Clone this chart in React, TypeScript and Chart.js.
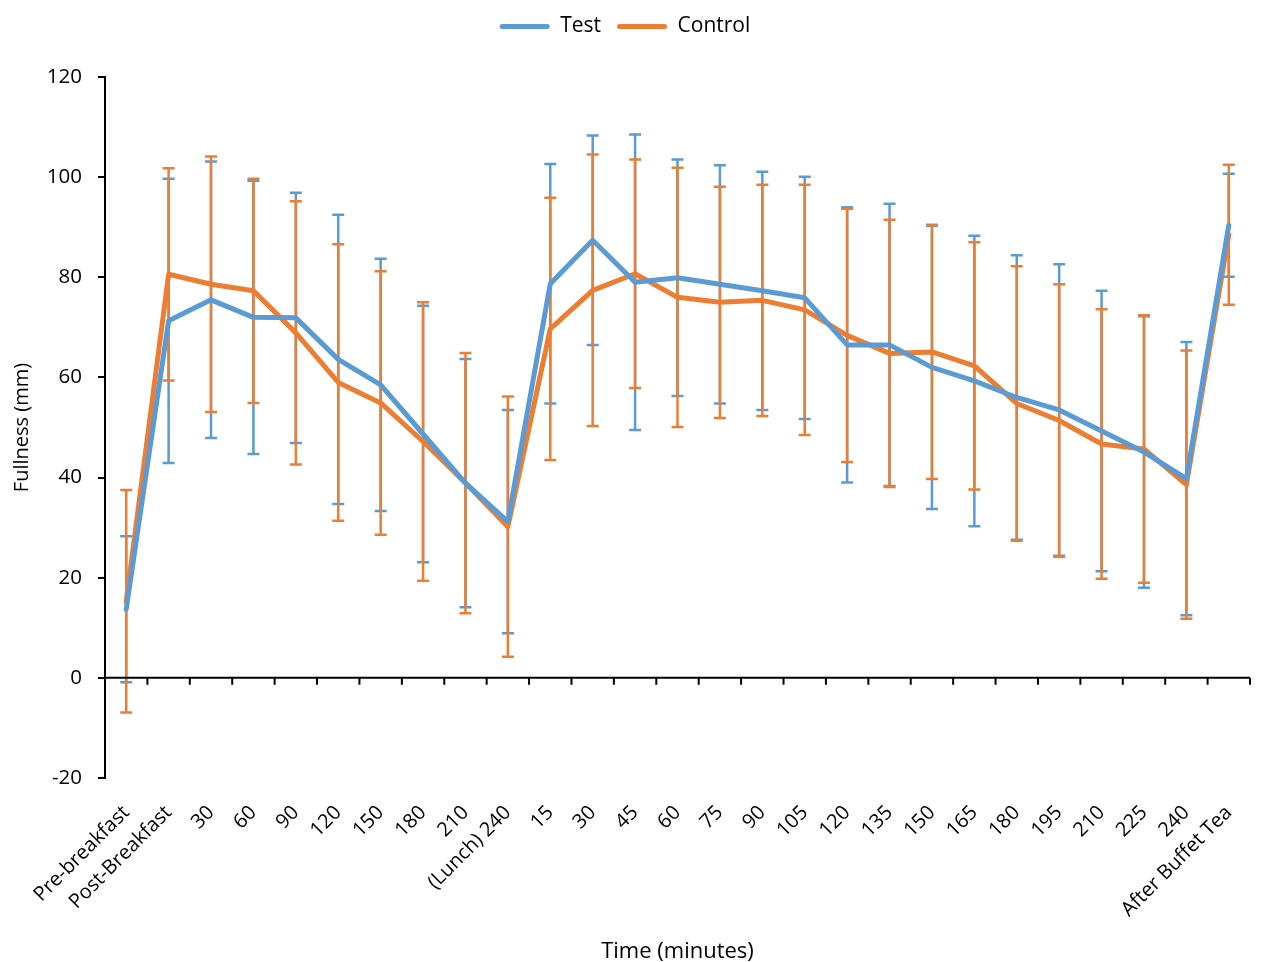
import React, { useEffect, useRef } from "react";
import { Chart, registerables } from "chart.js";

Chart.register(...registerables);

const categories = [
  "Pre-breakfast", "Post-Breakfast", "30", "60", "90", "120", "150", "180", "210", "(Lunch) 240",
  "15", "30", "45", "60", "75", "90", "105", "120", "135", "150", "165", "180", "195", "210", "225", "240",
  "After Buffet Tea",
];

const testMean = [
  13.7, 71.3, 75.5, 72.0, 71.9, 63.6, 58.5, 48.7, 38.9, 31.2,
  78.7, 87.4, 79.0, 79.9, 78.6, 77.3, 75.9, 66.5, 66.5, 62.0, 59.3, 56.0, 53.5, 49.3, 45.1, 39.8,
  90.4,
];
const testSD = [
  14.6, 28.4, 27.6, 27.3, 25.0, 28.9, 25.2, 25.6, 24.8, 22.3,
  23.9, 20.9, 29.5, 23.6, 23.8, 23.8, 24.2, 27.5, 28.2, 28.3, 29.0, 28.4, 29.1, 28.0, 27.1, 27.3,
  10.3,
];
const controlMean = [
  15.3, 80.6, 78.6, 77.3, 68.9, 59.0, 54.9, 47.2, 38.9, 30.2,
  69.7, 77.4, 80.7, 76.0, 75.0, 75.4, 73.5, 68.4, 64.8, 65.1, 62.3, 54.8, 51.4, 46.7, 45.7, 38.6,
  88.5,
];
const controlSD = [
  22.2, 21.2, 25.5, 22.4, 26.3, 27.6, 26.3, 27.8, 26.0, 26.0,
  26.2, 27.1, 22.8, 25.9, 23.1, 23.1, 25.0, 25.3, 26.7, 25.4, 24.7, 27.4, 27.2, 26.9, 26.7, 26.8,
  14.0,
];

const yTicks = { min: -20, max: 120, step: 20 };

const BLUE = "#5B9BD5";
const ORANGE = "#ED7D31";
const FONT = "'Open Sans', sans-serif";
const TEXT = "#000";

const errorBarPlugin = {
  id: "errorBars",
  beforeDatasetsDraw(chart: any) {
    const ctx = chart.ctx;
    const x = chart.scales.x;
    const y = chart.scales.y;
    const sets = [
      { mean: testMean, sd: testSD, color: BLUE },
      { mean: controlMean, sd: controlSD, color: ORANGE },
    ];
    ctx.save();
    for (const s of sets) {
      ctx.strokeStyle = s.color;
      ctx.lineWidth = 2.5;
      for (let i = 0; i < s.mean.length; i++) {
        const px = x.getPixelForValue(i);
        const top = y.getPixelForValue(s.mean[i] + s.sd[i]);
        const bot = y.getPixelForValue(s.mean[i] - s.sd[i]);
        ctx.beginPath();
        ctx.moveTo(px, top);
        ctx.lineTo(px, bot);
        ctx.moveTo(px - 6, top);
        ctx.lineTo(px + 6, top);
        ctx.moveTo(px - 6, bot);
        ctx.lineTo(px + 6, bot);
        ctx.stroke();
      }
    }
    ctx.restore();
  },
};

const zeroAxisPlugin = {
  id: "zeroAxis",
  afterDatasetsDraw(chart: any) {
    const ctx = chart.ctx;
    const x = chart.scales.x;
    const y = chart.scales.y;
    const area = chart.chartArea;
    const y0 = y.getPixelForValue(0);
    ctx.save();
    ctx.strokeStyle = "#000";
    ctx.lineWidth = 2;
    ctx.beginPath();
    ctx.moveTo(area.left, y0);
    ctx.lineTo(area.right, y0);
    const n = categories.length;
    const half = (x.getPixelForValue(1) - x.getPixelForValue(0)) / 2;
    for (let i = 0; i < n; i++) {
      const bx = x.getPixelForValue(i) + half;
      ctx.moveTo(bx, y0);
      ctx.lineTo(bx, y0 + 7);
    }
    ctx.stroke();
    ctx.restore();
  },
};

const legendSpacer = {
  id: "legendSpacer",
  beforeInit(chart: any) {
    const orig = chart.legend.fit;
    chart.legend.fit = function () {
      orig.bind(chart.legend)();
      this.height += 30;
    };
  },
};

export default function App() {
  const ref = useRef<HTMLCanvasElement | null>(null);
  useEffect(() => {
    if (!ref.current) return;
    Chart.defaults.font.family = FONT;
    Chart.defaults.color = TEXT;
    const chart = new Chart(ref.current, {
      type: "line",
      data: {
        labels: categories,
        datasets: [
          {
            label: "Test",
            data: testMean,
            borderColor: BLUE,
            backgroundColor: BLUE,
            borderWidth: 5,
            pointRadius: 0,
            tension: 0,
            borderJoinStyle: "round",
            borderCapStyle: "round",
          },
          {
            label: "Control",
            data: controlMean,
            borderColor: ORANGE,
            backgroundColor: ORANGE,
            borderWidth: 5,
            pointRadius: 0,
            tension: 0,
            borderJoinStyle: "round",
            borderCapStyle: "round",
          },
        ],
      },
      options: {
        responsive: false,
        animation: false,
        layout: { padding: { top: 0, left: 0, right: 12, bottom: 0 } },
        plugins: {
          legend: {
            position: "top",
            align: "center",
            labels: {
              boxWidth: 50,
              boxHeight: 5,
              padding: 16,
              color: TEXT,
              font: { size: 21, family: FONT },
              generateLabels(chart: any) {
                return chart.data.datasets.map((d: any, i: number) => ({
                  text: d.label,
                  fillStyle: d.borderColor,
                  strokeStyle: d.borderColor,
                  lineWidth: 0,
                  borderRadius: 2.5,
                  fontColor: TEXT,
                  datasetIndex: i,
                  hidden: false,
                }));
              },
            },
          },
          tooltip: { enabled: false },
        },
        scales: {
          x: {
            type: "category",
            offset: true,
            grid: { display: false },
            border: { display: false },
            ticks: {
              autoSkip: false,
              minRotation: 45,
              maxRotation: 45,
              padding: 15,
              color: TEXT,
              font: { size: 20, family: FONT },
            },
            title: {
              display: true,
              text: "Time (minutes)",
              color: TEXT,
              font: { size: 22, family: FONT },
              padding: { top: 0, bottom: -3 },
            },
            afterFit(scale: any) {
              scale.height = 184;
            },
          },
          y: {
            min: yTicks.min,
            max: yTicks.max,
            ticks: {
              stepSize: yTicks.step,
              padding: 16,
              color: TEXT,
              font: { size: 20.5, family: FONT },
            },
            grid: {
              drawOnChartArea: false,
              drawTicks: true,
              tickLength: 7,
              color: "#000",
              lineWidth: 2,
            },
            border: { display: true, color: "#000", width: 2 },
            title: {
              display: true,
              text: "Fullness (mm)",
              color: TEXT,
              font: { size: 20, family: FONT },
              padding: { top: 10, bottom: 0 },
            },
            afterFit(scale: any) {
              scale.width = 105;
            },
          },
        },
      },
      plugins: [errorBarPlugin, zeroAxisPlugin, legendSpacer],
    });
    return () => chart.destroy();
  }, []);
  return (
    <div style={{ position: "fixed", left: 0, top: 0, width: 1262, height: 962, background: "#fff" }}>
      <canvas ref={ref} width={1262} height={962} style={{ display: "block" }} />
    </div>
  );
}
